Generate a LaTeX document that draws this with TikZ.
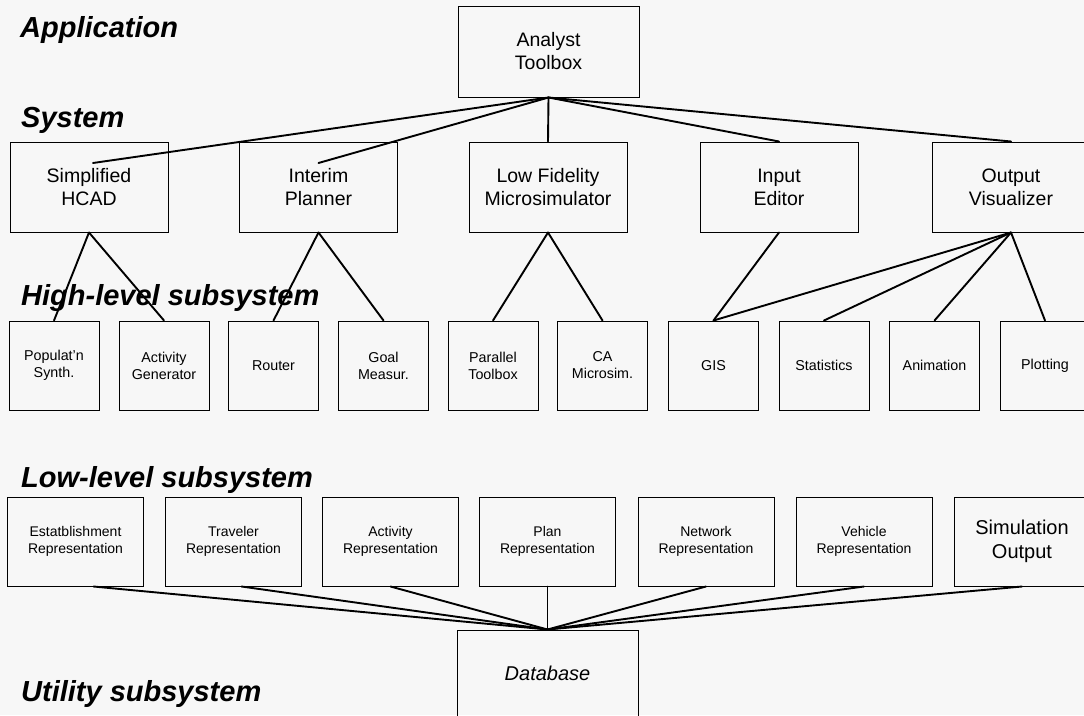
\documentclass[tikz,border=0pt]{standalone}
\usepackage{fontspec}
\setmainfont{Liberation Sans}
\definecolor{paper}{RGB}{247,247,247}
\tikzset{
  box/.style={draw=black, line width=1pt, rectangle, inner sep=0pt, align=center},
  topbox/.style={box, minimum width=181pt, minimum height=91pt, font=\fontsize{19.5}{23}\selectfont},
  sysbox/.style={box, minimum width=158pt, minimum height=90pt, font=\fontsize{19.5}{23}\selectfont},
  hibox/.style={box, minimum width=90pt, minimum height=89pt, font=\fontsize{14.3}{17}\selectfont},
  lobox/.style={box, minimum width=136pt, minimum height=89pt, font=\fontsize{14}{16.5}\selectfont},
  bigtext/.style={font=\fontsize{20}{24}\selectfont},
  level/.style={anchor=base west, inner sep=0pt, font=\fontsize{29}{34}\selectfont\bfseries\itshape},
  link/.style={line width=1.9pt, line cap=round}
}
\begin{document}
\begin{tikzpicture}[x=1pt, y=-1pt]
  \useasboundingbox (0,0) rectangle (1084,715);
  \fill[paper] (0,0) rectangle (1084,715);
  \clip (0,0) rectangle (1084,715);

  % layer titles
  \node[level] (lapp)  at (20,37)  {Application};
  \node[level] (lsys)  at (21,127) {System};
  \node[level] (lhigh) at (21,305) {High-level subsystem};
  \node[level] (llow)  at (21,487) {Low-level subsystem};
  \node[level] (lutil) at (21,701) {Utility subsystem};

  % application
  \node[topbox] (at) at (548.5,51.5) {Analyst\\Toolbox};

  % systems
  \node[sysbox] (hcad) at (89,187)    {Simplified\\HCAD};
  \node[sysbox] (ip)   at (318.5,187) {Interim\\Planner};
  \node[sysbox] (lfm)  at (548,187)   {Low Fidelity\\Microsimulator};
  \node[sysbox] (ie)   at (779,187)   {Input\\Editor};
  \node[sysbox] (ov)   at (1011,187)  {Output\\Visualizer};

  % high-level subsystems
  \node[hibox] (pop)   at (54,365.5)     {Populat'n\\Synth.};
  \node[hibox] (actg)  at (164,365.5)    {Activity\\Generator};
  \node[hibox] (rout)  at (273.5,365.5)  {Router};
  \node[hibox] (goal)  at (383.5,365.5)  {Goal\\Measur.};
  \node[hibox] (ptb)   at (493,365.5)    {Parallel\\Toolbox};
  \node[hibox] (ca)    at (602.5,365.5)  {CA\\Microsim.};
  \node[hibox] (gis)   at (713.5,365.5)  {GIS};
  \node[hibox] (stat)  at (824,365.5)    {Statistics};
  \node[hibox] (anim)  at (934.5,365.5)  {Animation};
  \node[hibox] (plot)  at (1045,365.5)   {Plotting};

  % low-level subsystems
  \node[lobox] (est)  at (75.5,541.5)  {Estatblishment\\Representation};
  \node[lobox] (trav) at (233.5,541.5) {Traveler\\Representation};
  \node[lobox] (actr) at (390.5,541.5) {Activity\\Representation};
  \node[lobox] (plan) at (547.5,541.5) {Plan\\Representation};
  \node[lobox] (net)  at (706,541.5)   {Network\\Representation};
  \node[lobox] (veh)  at (864,541.5)   {Vehicle\\Representation};
  \node[lobox, bigtext] (simo) at (1022,541.5) {Simulation\\Output};

  % utility
  \node[topbox, minimum height=86pt, font=\fontsize{20}{24}\selectfont\itshape] (db) at (547.5,673) {Database};

  % application to systems
  \draw[link] (at.south) -- ([xshift=4pt,yshift=24pt]hcad.center);
  \draw[link] (at.south) -- ([yshift=24pt]ip.center);
  \draw[link] (at.south) -- (lfm.north);
  \draw[link] (at.south) -- (ie.north);
  \draw[link] (at.south) -- (ov.north);

  % systems to high-level subsystems
  \draw[link] (hcad.south) -- (pop.north);
  \draw[link] (hcad.south) -- (actg.north);
  \draw[link] (ip.south) -- (rout.north);
  \draw[link] (ip.south) -- (goal.north);
  \draw[link] (lfm.south) -- (ptb.north);
  \draw[link] (lfm.south) -- (ca.north);
  \draw[link] (ie.south) -- (gis.north);
  \draw[link] (ov.south) -- (gis.north);
  \draw[link] (ov.south) -- (stat.north);
  \draw[link] (ov.south) -- (anim.north);
  \draw[link] (ov.south) -- (plot.north);

  % low-level subsystems to database
  \draw[link] ([xshift=18pt]est.south) -- (db.north);
  \draw[link] ([xshift=8pt]trav.south) -- (db.north);
  \draw[link] (actr.south) -- (db.north);
  \draw[link] (plan.south) -- (db.north);
  \draw[link] (net.south) -- (db.north);
  \draw[link] (veh.south) -- (db.north);
  \draw[link] (simo.south) -- (db.north);
\end{tikzpicture}
\end{document}
